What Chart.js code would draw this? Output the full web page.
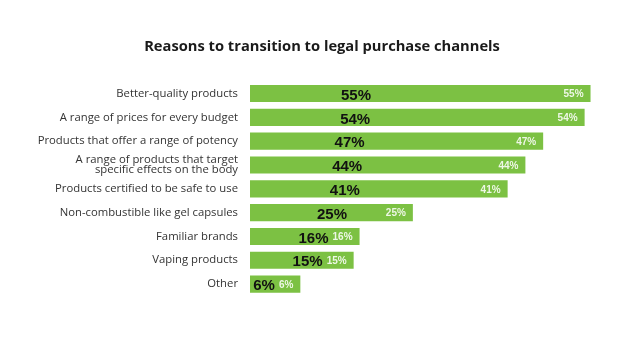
<!DOCTYPE html>
<html>
<head>
<meta charset="utf-8">
<script src="https://cdn.jsdelivr.net/npm/chart.js@4/dist/chart.umd.min.js"></script>
<style>
html,body{margin:0;padding:0;background:#fff;}
#wrap{width:635px;height:357px;}
</style>
</head>
<body>
<div id="wrap"><canvas id="c" width="635" height="357"></canvas></div>
<script>
const categories = [
  "Better-quality products",
  "A range of prices for every budget",
  "Products that offer a range of potency",
  ["A range of products that target", "specific effects on the body"],
  "Products certified to be safe to use",
  "Non-combustible like gel capsules",
  "Familiar brands",
  "Vaping products",
  "Other"
];
const values = [55, 54, 47, 44, 41, 25, 16, 15, 6];
const valueLabels = ["55%", "54%", "47%", "44%", "41%", "25%", "16%", "15%", "6%"];
const titleText = "Reasons to transition to legal purchase channels";

const barLabels = {
  id: 'barLabels',
  afterDatasetsDraw(chart) {
    const ctx = chart.ctx;
    const meta = chart.getDatasetMeta(0);
    ctx.save();
    meta.data.forEach((bar, i) => {
      const txt = valueLabels[i];
      ctx.font = 'bold 10px "Liberation Sans", Arial, sans-serif';
      ctx.fillStyle = '#eef7e6';
      ctx.textAlign = 'right';
      ctx.textBaseline = 'middle';
      const smallRight = bar.x - 7;
      ctx.fillText(txt, smallRight, bar.y + 1);
      const smallW = ctx.measureText(txt).width;
      ctx.font = 'bold 15px "Liberation Sans", Arial, sans-serif';
      const bigW = ctx.measureText(txt).width;
      let cx = bar.base + 62 + 0.8 * values[i];
      const maxCx = smallRight - smallW - 4 - bigW / 2;
      if (cx > maxCx) cx = maxCx;
      ctx.fillStyle = '#111';
      ctx.textAlign = 'center';
      ctx.fillText(txt, cx, bar.y + 2);
    });
    ctx.restore();
  }
};

new Chart(document.getElementById('c'), {
  type: 'bar',
  data: {
    labels: categories,
    datasets: [{
      data: values,
      base: -2.5,
      backgroundColor: '#7cc143',
      borderWidth: 0,
      barPercentage: 0.72,
      categoryPercentage: 1.0
    }]
  },
  options: {
    indexAxis: 'y',
    responsive: false,
    animation: false,
    devicePixelRatio: 1,
    layout: { padding: { left: 12, right: 3, top: 0, bottom: 61 } },
    plugins: {
      legend: { display: false },
      tooltip: { enabled: false },
      title: {
        display: true,
        text: titleText,
        color: '#1a1a1a',
        font: { family: '"Open Sans", sans-serif', size: 14.7, weight: 'bold' },
        padding: { top: 38, bottom: 26 }
      }
    },
    scales: {
      x: {
        display: false,
        min: -2.5,
        max: 62
      },
      y: {
        grid: { display: false },
        border: { display: false },
        ticks: {
          color: '#333',
          padding: 4,
          font: { family: '"Open Sans", sans-serif', size: 11.3, lineHeight: 0.9 }
        },
        afterFit(scale) { scale.width = 238; }
      }
    }
  },
  plugins: [barLabels]
});
</script>
</body>
</html>
